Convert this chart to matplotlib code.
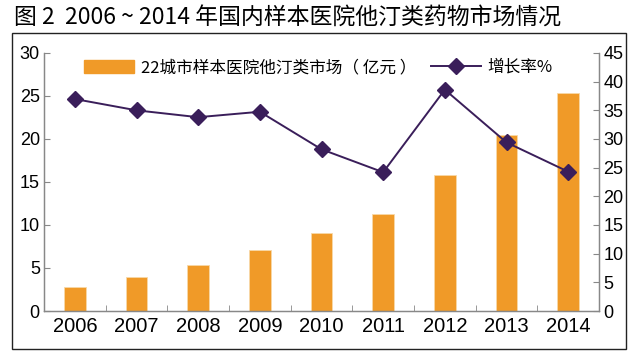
import matplotlib
matplotlib.use("Agg")
import matplotlib.pyplot as plt
from matplotlib.patches import Rectangle
from matplotlib.lines import Line2D
import numpy as np

years = ["2006", "2007", "2008", "2009", "2010", "2011", "2012", "2013", "2014"]
market = [2.83, 3.92, 5.31, 7.09, 9.1, 11.28, 15.78, 20.47, 25.3]
growth = [36.97, 35.0, 33.8, 34.75, 28.2, 24.2, 38.6, 29.4, 24.3]

plt.rcParams["font.family"] = ["Noto Sans CJK SC", "DejaVu Sans"]

ORANGE = "#F09A28"
PURPLE = "#3A1E5A"
GREY = "#888888"

fig = plt.figure(figsize=(6.4, 3.59), dpi=100)
ax = fig.add_axes([0.06875, 0.1337, 0.8672, 0.7187])
ax2 = ax.twinx()

x = np.arange(len(years))
ax.bar(x, market, width=0.35, color=ORANGE, edgecolor="#F8D9A8", linewidth=0.6, zorder=2)
ax2.plot(x, growth, "-D", color=PURPLE, lw=1.4, markersize=8.5, zorder=3)

ax.set_xlim(-0.5, 8.5)
ax.set_ylim(0, 30)
ax2.set_ylim(0, 45)
ax.set_yticks(range(0, 31, 5))
ax2.set_yticks(range(0, 46, 5))

ax.set_xticks(x)
ax.set_xticklabels(years, family=["Liberation Sans Narrow", "Liberation Sans"], fontsize=14.5)
ax.tick_params(axis="x", length=0, pad=4)
ax.set_xticks(np.arange(0.5, 8.5, 1), minor=True)
ax.tick_params(axis="x", which="minor", direction="in", length=4, color=GREY)

for a in (ax, ax2):
    a.tick_params(axis="y", direction="in", length=4, color=GREY, labelsize=13, pad=3)
    for lbl in a.get_yticklabels():
        lbl.set_family(["Liberation Sans", "DejaVu Sans"])
    a.spines["top"].set_visible(False)
    for s in ("left", "right", "bottom"):
        a.spines[s].set_color(GREY)
        a.spines[s].set_linewidth(0.9)

ax2.set_zorder(ax.get_zorder() + 1)
ax2.patch.set_visible(False)

handles = [Rectangle((0, 0), 1, 1, color=ORANGE),
           Line2D([], [], color=PURPLE, lw=1.4, marker="D", markersize=8.5)]
labels = ["22城市样本医院他汀类市场（ 亿元 ）", "增长率%"]
ax.legend(handles, labels, loc="upper left", bbox_to_anchor=(0.045, 1.035), ncol=2,
          frameon=False, fontsize=12, handlelength=3.0, handleheight=0.8,
          columnspacing=0.9, handletextpad=0.4)

fig.text(0.022, 0.95, "图 2  2006 ~ 2014 年国内样本医院他汀类药物市场情况",
         fontsize=16.5, va="center", ha="left")
fig.patches.append(Rectangle((0.01875, 0.0279), 0.959, 0.880, transform=fig.transFigure,
                             fill=False, edgecolor="#222222", linewidth=1.0))

fig.savefig("out.png", dpi=100)
